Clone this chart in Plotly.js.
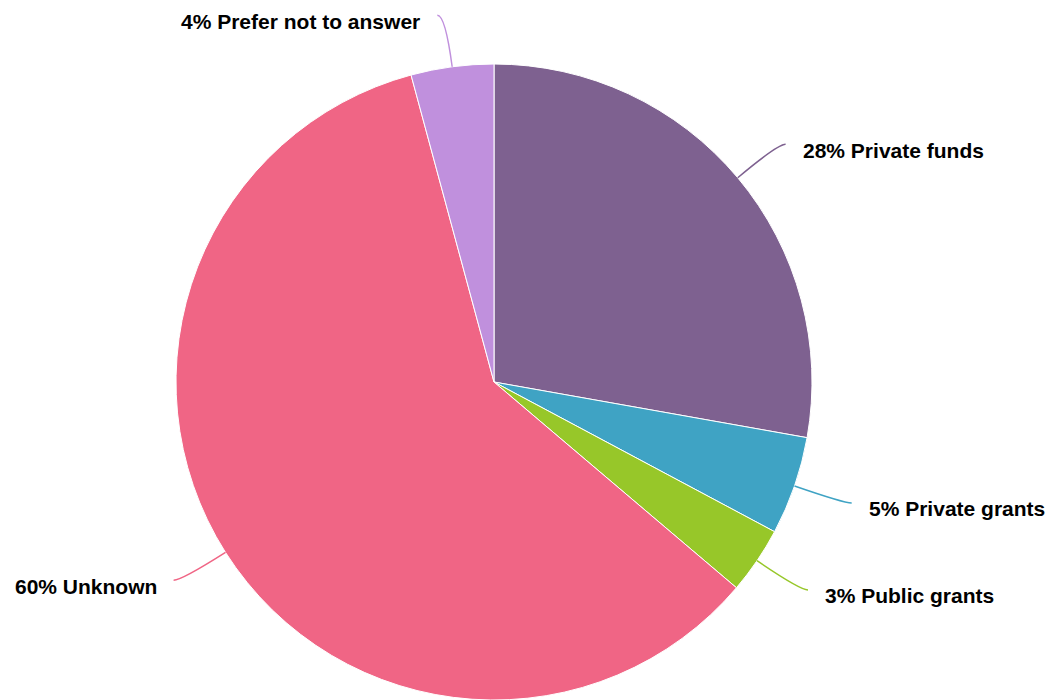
<!DOCTYPE html>
<html>
<head>
<meta charset="utf-8">
<script src="https://cdn.plot.ly/plotly-3.0.1.min.js"></script>
<style>html,body{margin:0;padding:0;background:#fff;}#chart{width:1055px;height:700px;}</style>
</head>
<body>
<div id="chart"></div>
<script>
const categories = ["Private funds", "Private grants", "Public grants", "Unknown", "Prefer not to answer"];
const values = [27.8, 5.0, 3.4, 59.6, 4.2];
const colors = ["#7E6190", "#3FA3C4", "#97C729", "#F06585", "#C090DD"];

const W = 1055, H = 700;
const plotW = 988, plotH = 636;
const cx = plotW / 2, cy = H - plotH / 2, r = Math.min(plotW, plotH) / 2;
const total = values.reduce((a, b) => a + b, 0);

const shapes = [], annotations = [];
const px = x => x / W, py = y => 1 - y / H;
let cum = 0;
values.forEach((v, i) => {
  const m = (cum + v / 2) / total;
  cum += v;
  const a = 2 * Math.PI * m;
  const dx = Math.sin(a), dy = -Math.cos(a);
  const side = dx >= 0 ? 1 : -1;
  const p0 = [cx + r * dx, cy + r * dy];
  const R = r + 52;
  const b = [cx + R * dx, cy + R * dy];
  const e = [b[0] + side * 8, b[1]];
  shapes.push({
    type: 'path', xref: 'paper', yref: 'paper',
    path: `M ${px(p0[0])} ${py(p0[1])} Q ${px(b[0])} ${py(b[1])} ${px(e[0])} ${py(e[1])}`,
    line: {color: colors[i], width: 1.5}
  });
  const pct = Math.round(v / total * 100);
  annotations.push({
    xref: 'paper', yref: 'paper',
    x: px(e[0] + side * 15), y: py(e[1] + 6),
    xanchor: side > 0 ? 'left' : 'right', yanchor: 'middle',
    text: pct + '% ' + categories[i], showarrow: false,
    font: {family: 'Liberation Sans, Arial, sans-serif', size: 21, weight: 'bold', color: '#000000'}
  });
});

const data = [{
  type: 'pie',
  labels: categories,
  values: values,
  sort: false,
  direction: 'clockwise',
  rotation: 0,
  textinfo: 'none',
  hoverinfo: 'label+percent',
  marker: {colors: colors, line: {color: '#ffffff', width: 1}},
  domain: {x: [0, plotW / W], y: [0, plotH / H]},
  showlegend: false
}];

const layout = {
  width: W, height: H,
  margin: {l: 0, r: 0, t: 0, b: 0},
  paper_bgcolor: '#ffffff',
  showlegend: false,
  shapes: shapes,
  annotations: annotations
};

Plotly.newPlot('chart', data, layout, {displayModeBar: false, staticPlot: true});
</script>
</body>
</html>
